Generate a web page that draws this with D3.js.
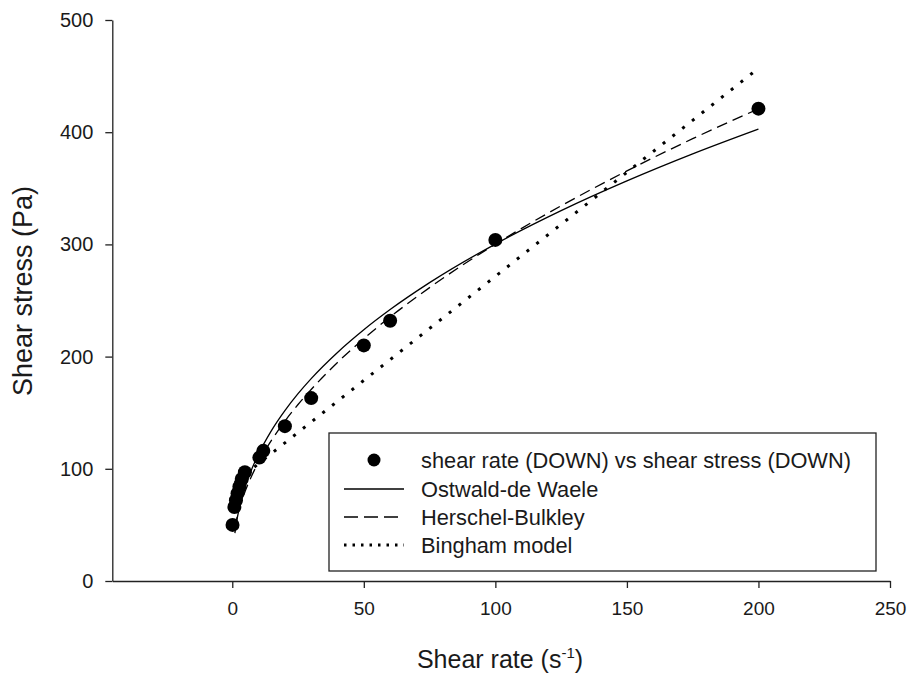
<!DOCTYPE html>
<html>
<head>
<meta charset="utf-8">
<script src="https://cdn.jsdelivr.net/npm/d3@7"></script>
<style>
  html, body { margin: 0; padding: 0; background: #fff; }
  svg { display: block; font-family: "Liberation Sans", Arial, sans-serif; }
</style>
</head>
<body>
<svg id="chart" width="909" height="675"></svg>
<script>
// ---- data ----
const shearRate   = [0.1, 0.8, 1.4, 2, 2.7, 3.6, 4.8, 10.3, 11.8, 20, 30, 50, 60, 100, 200];
const shearStress = [50, 66, 72, 78, 84, 91, 97, 110, 116, 138, 163, 210, 232, 304, 421];

// fitted model curves
const modelRate   = [1, 2, 3, 5, 7.5, 10, 15, 20, 25, 30, 40, 50, 60, 75, 100, 125, 150, 175, 200];
const ostwald     = [42.7, 57.3, 68.0, 84.4, 100.3, 113.2, 134.5, 151.9, 167.0, 180.4, 203.7, 223.9, 241.9, 265.9, 300.3, 330.1, 356.6, 380.7, 402.8];
const herschel    = [47.4, 58.4, 66.9, 80.6, 94.3, 106.0, 125.7, 142.5, 157.3, 170.7, 194.8, 216.0, 235.3, 261.5, 300.2, 334.4, 365.5, 394.2, 420.8];
const bingham     = [87.9, 89.7, 91.6, 95.3, 99.9, 104.6, 113.8, 123.1, 132.4, 141.7, 160.2, 178.8, 197.3, 225.1, 271.5, 317.9, 364.3, 410.6, 457.0];

const xTicks = [0, 50, 100, 150, 200, 250];
const yTicks = [0, 100, 200, 300, 400, 500];

const legendLabels = [
  "shear rate (DOWN) vs shear stress (DOWN)",
  "Ostwald-de Waele",
  "Herschel-Bulkley",
  "Bingham model"
];

// ---- drawing ----
const svg = d3.select("#chart");
const x = d3.scaleLinear().domain([-45.6, 250]).range([112.3, 890]);
const y = d3.scaleLinear().domain([0, 500]).range([581, 20]);

const axisColor = "#222";
const textColor = "#1a1a1a";

// X axis
const gx = svg.append("g").attr("transform", `translate(0,${y(0)})`)
  .call(d3.axisBottom(x).tickValues(xTicks).tickSize(7).tickSizeOuter(0).tickFormat(d3.format("d")));
gx.select(".domain").attr("stroke", axisColor).attr("stroke-width", 1.3);
gx.selectAll(".tick line").attr("stroke", axisColor).attr("stroke-width", 1.3);
gx.selectAll(".tick text").attr("font-size", 19).attr("fill", textColor).attr("y", 21).attr("dy", "0.71em")
  .attr("font-family", "Liberation Sans, Arial, sans-serif");

// Y axis
const gy = svg.append("g").attr("transform", `translate(${x(-45.6)},0)`)
  .call(d3.axisLeft(y).tickValues(yTicks).tickSize(7).tickSizeOuter(0).tickFormat(d3.format("d")));
gy.select(".domain").attr("stroke", axisColor).attr("stroke-width", 1.3);
gy.selectAll(".tick line").attr("stroke", axisColor).attr("stroke-width", 1.3);
gy.selectAll(".tick text").attr("font-size", 20).attr("fill", textColor).attr("x", -19)
  .attr("font-family", "Liberation Sans, Arial, sans-serif");

// axis titles
const xt = svg.append("text").attr("x", 500).attr("y", 668).attr("text-anchor", "middle")
  .attr("font-size", 25).attr("fill", textColor);
xt.append("tspan").text("Shear rate (s");
xt.append("tspan").attr("dy", -10).attr("font-size", 15).text("-1");
xt.append("tspan").attr("dy", 10).text(")");

svg.append("text").attr("transform", "translate(32,291) rotate(-90)")
  .attr("text-anchor", "middle").attr("font-size", 27).attr("fill", textColor)
  .text("Shear stress (Pa)");

// model lines
const line = d3.line().x(d => x(d[0])).y(d => y(d[1])).curve(d3.curveMonotoneX);
const mk = vals => modelRate.map((r, i) => [r, vals[i]]);

svg.append("path").attr("d", line(mk(bingham))).attr("fill", "none")
  .attr("stroke", "#000").attr("stroke-width", 3).attr("stroke-dasharray", "3,9.4");
svg.append("path").attr("d", line(mk(herschel))).attr("fill", "none")
  .attr("stroke", "#000").attr("stroke-width", 1.3).attr("stroke-dasharray", "11,6");
svg.append("path").attr("d", line(mk(ostwald))).attr("fill", "none")
  .attr("stroke", "#000").attr("stroke-width", 1.3);

// data points
svg.append("g").selectAll("circle").data(shearRate.map((r, i) => [r, shearStress[i]]))
  .join("circle").attr("cx", d => x(d[0])).attr("cy", d => y(d[1])).attr("r", 7).attr("fill", "#000");

// legend
const lg = svg.append("g");
lg.append("rect").attr("x", 329).attr("y", 433).attr("width", 547).attr("height", 138)
  .attr("fill", "#fff").attr("stroke", axisColor).attr("stroke-width", 1.3);
const rowsY = [460, 489, 517, 545];
lg.append("circle").attr("cx", 374).attr("cy", rowsY[0]).attr("r", 6.5).attr("fill", "#000");
lg.append("line").attr("x1", 344).attr("x2", 404).attr("y1", rowsY[1]).attr("y2", rowsY[1])
  .attr("stroke", "#000").attr("stroke-width", 1.3);
lg.append("line").attr("x1", 344).attr("x2", 404).attr("y1", rowsY[2]).attr("y2", rowsY[2])
  .attr("stroke", "#000").attr("stroke-width", 1.3).attr("stroke-dasharray", "14,6");
lg.append("line").attr("x1", 344).attr("x2", 404).attr("y1", rowsY[3]).attr("y2", rowsY[3])
  .attr("stroke", "#000").attr("stroke-width", 3).attr("stroke-dasharray", "2.5,6");
lg.selectAll("text.lab").data(legendLabels).join("text").attr("class", "lab")
  .attr("x", 421).attr("y", (d, i) => rowsY[i]).attr("dy", "0.36em")
  .attr("font-size", 21.8).attr("fill", textColor).text(d => d);
</script>
</body>
</html>
